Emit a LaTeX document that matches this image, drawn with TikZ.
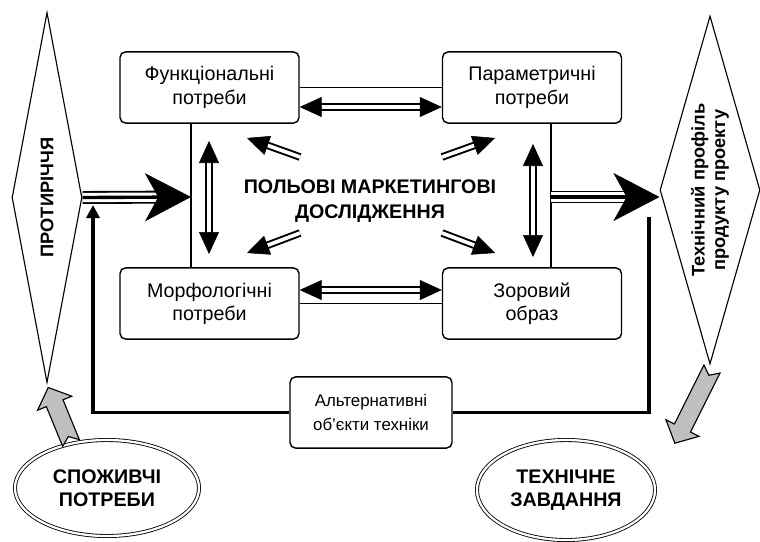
\documentclass[tikz,border=0pt]{standalone}
\usepackage{fontspec}
\setmainfont{Liberation Sans}
\usetikzlibrary{
  arrows.meta,
  shapes.geometric,
  calc
}

\tikzset{
  needbox/.style={draw, line width=1pt, rounded corners=4pt, align=center,
    minimum width=4.475cm, minimum height=1.78cm, inner sep=2pt,
    font=\fontsize{14}{16.5}\selectfont},
  frame/.style={line width=0.8pt},
  dshaft/.style={double, line width=1.4pt, double distance=2.6pt},
  dhead/.style={line width=0.4pt, -{Triangle[length=0.55cm, width=0.5cm]}},
  backline/.style={line width=2.4pt},
  grayarrow/.style={draw, fill=gray!50, line width=0.8pt, line join=miter},
  goal/.style={ellipse, draw, double, line width=0.6pt, double distance=1.6pt,
    align=center, inner sep=0pt, font=\bfseries\fontsize{14}{16}\selectfont}
}

% double-lined arrow with heads at both ends
\newcommand\twoway[2]{%
  \draw[dshaft] ($(#1)!0.45cm!(#2)$) -- ($(#2)!0.45cm!(#1)$);
  \draw[dhead] ($(#1)!0.5cm!(#2)$) -- (#1);
  \draw[dhead] ($(#2)!0.5cm!(#1)$) -- (#2);
}
% double-lined arrow, one head
\newcommand\oneway[2]{%
  \draw[dshaft] (#1) -- ($(#2)!0.45cm!(#1)$);
  \draw[dhead] ($(#2)!0.5cm!(#1)$) -- (#2);
}
% wide three-line arrow
\newcommand\bigway[2]{%
  \draw[line width=9.2pt, shorten >=0.8cm] (#1) -- (#2);
  \draw[white, line width=6.6pt, shorten >=0.8cm] (#1) -- (#2);
  \draw[line width=2.4pt, shorten >=0.8cm] (#1) -- (#2);
  \draw[line width=0.4pt, -{Stealth[length=1.15cm, width=1.2cm, inset=0.33cm]}]
    ($(#2)!1.1cm!(#1)$) -- (#2);
}
% grey block arrow with notched tail: tail point, direction, length
\newcommand\grayway[3]{%
  \begin{scope}[shift={(#1)}, rotate=#2]
    \draw[grayarrow] (0,-9) -- (#3-17,-9) -- (#3-17,-18.5) -- (#3,0)
      -- (#3-17,18.5) -- (#3-17,9) -- (0,9) -- (7,0) -- cycle;
  \end{scope}}

\begin{document}
\begin{tikzpicture}[x=0.025cm, y=-0.025cm]
  \def\Xl{191};
  \def\Xr{551};
  \def\Ym{197};
  \useasboundingbox (0,0) rectangle (760,541);

  % side diamonds (turned, so north points left and south right)
  \node[diamond, draw, line width=0.8pt, rotate=90, shape aspect=5, inner sep=0pt,
        minimum width=9.25cm, minimum height=1.75cm,
        font=\bfseries\fontsize{13}{16}\selectfont] (contra) at (47,197.5) {ПРОТИРІЧЧЯ};
  \node[diamond, draw, line width=0.8pt, rotate=90, shape aspect=3.5, inner sep=0pt,
        minimum width=8.7cm, minimum height=2.5cm, align=center,
        font=\bfseries\fontsize{13}{14.5}\selectfont] (profile) at (710,190)
        {Технічний профіль\\продукту проекту};

  % needs
  \node[needbox] (func)   at (209.5,87.5)  {Функціональні\\потреби};
  \node[needbox] (param)  at (532,87.5)    {Параметричні\\потреби};
  \node[needbox] (morph)  at (209.5,303.5) {Морфологічні\\потреби};
  \node[needbox] (visual) at (532,303.5)   {Зоровий\\образ};
  \node[needbox, minimum width=4.05cm, font=\fontsize{12}{17}\selectfont]
        (alt) at (371,412.5) {Альтернативні\\об’єкти техніки};

  \node[font=\bfseries\fontsize{14}{18}\selectfont, align=center] (field) at (370,201)
        {ПОЛЬОВІ МАРКЕТИНГОВІ\\ДОСЛІДЖЕННЯ};

  % frame
  \draw[frame] (func.east) -- (param.west);
  \draw[frame] (morph.east) -- (visual.west);
  \draw[frame] (func.south -| \Xl,0) -- (morph.north -| \Xl,0);
  \draw[frame] (param.south -| \Xr,0) -- (visual.north -| \Xr,0);

  % links between the needs
  \coordinate (t1) at (func.east |- 0,107);
  \coordinate (t2) at (param.west |- 0,107);
  \coordinate (b1) at (morph.east |- 0,290);
  \coordinate (b2) at (visual.west |- 0,290);
  \twoway{t1}{t2}
  \twoway{b1}{b2}
  \twoway{209,141}{209,254}
  \twoway{533,144}{533,257}

  % from the research to the needs
  \oneway{300,157}{247,138}
  \oneway{442,157}{495,138}
  \oneway{300,233}{247,253}
  \oneway{442,233}{495,253}

  % in and out
  \coordinate (inL) at (\Xl,\Ym);
  \coordinate (outR) at (\Xr,\Ym);
  \bigway{contra.south}{inL}
  \bigway{outR}{profile.north |- outR}

  % alternatives loop back
  \coordinate (fbtop) at (649,217);
  \coordinate (fbend) at (93,205);
  \draw[backline] (fbtop) |- (alt.east);
  \draw[backline, -{Triangle[length=0.33cm, width=0.33cm]}] (alt.west) -| (fbend);

  % needs and task
  \node[goal, minimum width=4.6cm, minimum height=2.4cm] (cons) at (107,488)
        {СПОЖИВЧІ\\ПОТРЕБИ};
  \node[goal, minimum width=4.45cm, minimum height=2.5cm] (task) at (566,490)
        {ТЕХНІЧНЕ\\ЗАВДАННЯ};

  \grayway{71,443}{112.3}{60}
  \grayway{712,369}{243.4}{83}

\end{tikzpicture}
\end{document}
